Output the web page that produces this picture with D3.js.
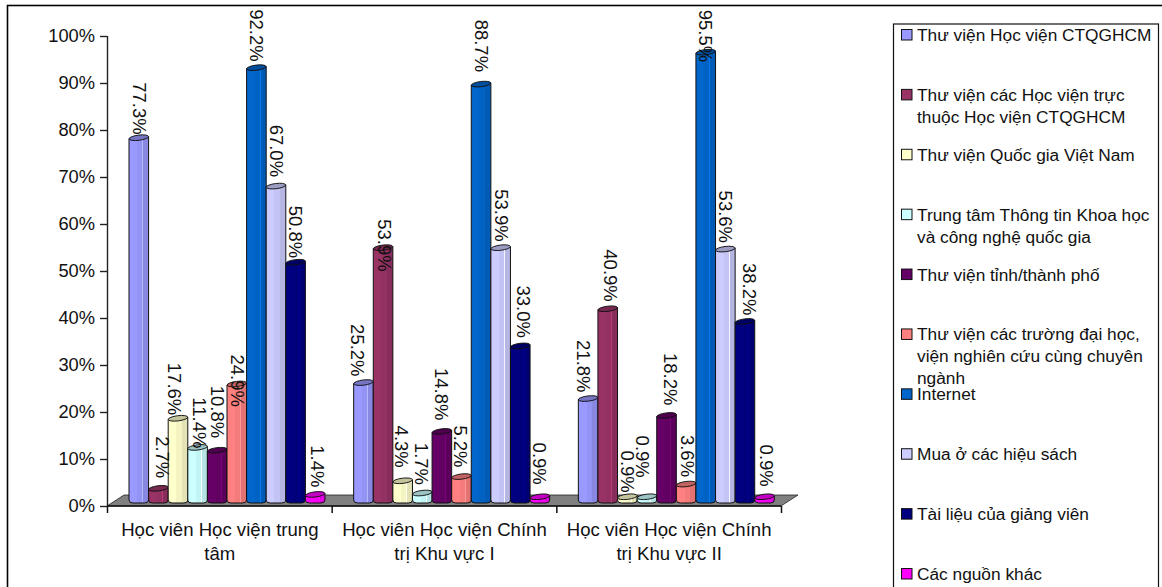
<!DOCTYPE html>
<html lang="vi">
<head>
<meta charset="utf-8">
<title>Nguồn tài liệu theo học viện</title>
<style>
  html, body { margin: 0; padding: 0; background: #fff; overflow: hidden; }
  svg { display: block; font-family: "Liberation Sans", Arial, sans-serif; fill: #111; }
</style>
<script src="https://cdnjs.cloudflare.com/ajax/libs/d3/7.8.5/d3.min.js"></script>
</head>
<body>
<svg id="chart" width="1162" height="587"></svg>
<script>
// Groups along the horizontal axis, each wrapped on two lines
const categories = ["Học viện trung tâm", "Học viện Khu vực I", "Học viện Khu vực II"];
const categoryLines = [
  ["Học viên Học viện trung", "tâm"],
  ["Học viên Học viện Chính", "trị Khu vực I"],
  ["Học viên Học viện Chính", "trị Khu vực II"]
];

// Sources, with their legend wording split into lines
const seriesLines = [
  ["Thư viện Học viện CTQGHCM"],
  ["Thư viện các Học viện trực", "thuộc Học viện CTQGHCM"],
  ["Thư viện Quốc gia Việt Nam"],
  ["Trung tâm Thông tin Khoa học", "và công nghệ quốc gia"],
  ["Thư viện tỉnh/thành phố"],
  ["Thư viện các trường đại học,", "viện nghiên cứu cùng chuyên", "ngành"],
  ["Internet"],
  ["Mua ở các hiệu sách"],
  ["Tài liệu của giảng viên"],
  ["Các nguồn khác"]
];
const seriesColors = ["#9999FF", "#993366", "#FFFFCC", "#CCFFFF", "#660066",
                      "#FF8080", "#0066CC", "#CCCCFF", "#000080", "#FF00FF"];

// Percentages per group, in the order of the sources above
const valuesCentral = [77.3, 2.7, 17.6, 11.4, 10.8, 24.9, 92.2, 67.0, 50.8, 1.4];
const valuesRegionOne = [25.2, 53.9, 4.3, 1.7, 14.8, 5.2, 88.7, 53.9, 33.0, 0.9];
const valuesRegionTwo = [21.8, 40.9, 0.9, 0.9, 18.2, 3.6, 95.5, 53.6, 38.2, 0.9];
const groupValues = [valuesCentral, valuesRegionOne, valuesRegionTwo];

const tickValues = [0, 10, 20, 30, 40, 50, 60, 70, 80, 90, 100];

// Hand placement of the rotated value labels, relative to their bars
const labelNudgeY = [
  [0, -7, 0, 4, -9, 26, -3, -6, -1, -4],
  [-3, 27, -10, -5, -8, -6, -9, -3, -5, -9],
  [-3, -4, -1, -16, -7, -4, 13, -3, -3, -7]
];
const labelNudgeX = [
  [1, 4, -4, 2, 0, 1, 0, 0, 0, 2],
  [-6, 1, -1, -1, 0, -1, 0, 1, 3, 0],
  [-5, 3, 0, -4, 4, 1, 0, 0, 5, 2]
];

const svg = d3.select("#chart");
const defs = svg.append("defs");

// Scales
const y = d3.scaleLinear().domain([0, 100]).range([506, 36]);
const xGroup = d3.scaleBand().domain(d3.range(categories.length)).range([107, 781]);
const xBar = d3.scaleBand().domain(d3.range(seriesColors.length)).range([22, 218]);
const xEdges = d3.scalePoint().domain(d3.range(categories.length + 1)).range([107, 781]);
const legendY = d3.scalePoint().domain(d3.range(seriesLines.length)).range([35, 574]);

const floorDepth = { dx: 17, dy: 11 };
const barBase = 503;
const topLift = 5;

// Outer frame and legend box run past the page edge
svg.append("rect").attr("x", 7.5).attr("y", 5.5).attr("width", 1300).attr("height", 800)
  .attr("fill", "#fff").attr("stroke", "#000").attr("stroke-width", 1.6);

// Faceted shading for the cylinders
seriesColors.forEach((c, i) => {
  const g = defs.append("linearGradient").attr("id", "bar" + i)
    .attr("x1", 0).attr("x2", 1).attr("y1", 0).attr("y2", 0);
  const mid = d3.color(c).darker(0.12).formatHex();
  const edge = d3.color(c).darker(0.32).formatHex();
  const shine = d3.color(c).brighter(0.5).formatHex();
  [[0, c], [0.42, c], [0.42, mid], [0.68, mid], [0.68, shine], [0.72, shine],
   [0.72, edge], [1, edge]].forEach(([o, col]) => {
    g.append("stop").attr("offset", o).attr("stop-color", col);
  });
});

// Floor of the plot
const x0 = xEdges(0), x1 = xEdges(categories.length), fy = y(0);
svg.append("path")
  .attr("d", d3.line()([[x0, fy], [x0 + floorDepth.dx, fy - floorDepth.dy],
                        [x1 + floorDepth.dx, fy - floorDepth.dy], [x1, fy]]) + "Z")
  .attr("fill", "#808080").attr("stroke", "#222").attr("stroke-width", 0.8);

// Vertical axis
const yAxis = svg.append("g").attr("transform", `translate(${x0},0)`)
  .call(d3.axisLeft(y).tickValues(tickValues).tickFormat(d => d + "%").tickSize(7).tickPadding(5));
yAxis.selectAll("path, line").attr("stroke", "#222").attr("stroke-width", 1.4);
yAxis.select(".domain").attr("d", `M0.5,${y(100)}V${y(0)}`);
yAxis.selectAll("text").attr("font-size", 18.3).attr("font-family", "Liberation Sans").attr("fill", "#111");

// Horizontal axis ticks
const xAxis = svg.append("g").attr("transform", `translate(0,${fy})`)
  .call(d3.axisBottom(xEdges).tickFormat("").tickSize(7));
xAxis.selectAll("path, line").attr("stroke", "#111").attr("stroke-width", 1.5);
xAxis.select(".domain").attr("d", `M${x0},0H${x1}`);

// Category names under the axis
const catLabels = svg.append("g").selectAll("text").data(categoryLines).join("text")
  .attr("text-anchor", "middle").attr("font-size", 18.6).attr("fill", "#111");
catLabels.selectAll("tspan").data((d, i) => d.map((t, j) => ({ t, j, i }))).join("tspan")
  .attr("x", d => xGroup(d.i) + xGroup.bandwidth() / 2 + 0.5)
  .attr("y", d => 536 + d.j * 23.5)
  .text(d => d.t);

// Cylinders, one group at a time
const flat = groupValues.flatMap((vals, g) => vals.map((v, s) => ({ g, s, v })));
const barW = xBar.bandwidth();
const marks = svg.append("g").selectAll("g").data(flat).join("g")
  .attr("transform", d => `translate(${xGroup(d.g) + xBar(d.s)},0)`);

marks.append("path")
  .attr("d", d => {
    const t = y(d.v) - topLift;
    return `M0,${t + 1}V${barBase - 3}Q0,${barBase} 4,${barBase}` +
           `H${barW - 4}Q${barW},${barBase} ${barW},${barBase - 3}V${t - 1}Z`;
  })
  .attr("fill", d => `url(#bar${d.s})`)
  .attr("stroke", "#111").attr("stroke-width", 1);

marks.append("ellipse")
  .attr("transform", d => `translate(${barW / 2},${y(d.v) - topLift}) rotate(-7)`)
  .attr("rx", barW / 2).attr("ry", 2.6)
  .attr("fill", d => d3.color(seriesColors[d.s]).darker(0.75).formatHex())
  .attr("stroke", "#111").attr("stroke-width", 0.9);

// Rotated value labels, drawn over every bar
svg.append("g").selectAll("text").data(flat).join("text")
  .attr("transform", d => {
    const cx = xGroup(d.g) + xBar(d.s) + barW / 2 + labelNudgeX[d.g][d.s];
    const end = y(d.v) - 8 + labelNudgeY[d.g][d.s];
    return `translate(${cx - 6.5},${end}) rotate(90)`;
  })
  .attr("text-anchor", "end")
  .attr("font-size", 18.5)
  .attr("fill", "#111")
  .text(d => d.v.toFixed(1) + "%");

// Legend
svg.append("rect").attr("x", 893.5).attr("y", 24).attr("width", 265).attr("height", 700)
  .attr("fill", "#fff").attr("stroke", "#111").attr("stroke-width", 1.2);

const items = svg.append("g").selectAll("g").data(seriesLines).join("g")
  .attr("transform", (d, i) => `translate(0,${legendY(i)})`);
items.append("rect")
  .attr("x", 901.5).attr("y", -5.5).attr("width", 10.5).attr("height", 10.5)
  .attr("fill", (d, i) => seriesColors[i]).attr("stroke", "#111").attr("stroke-width", 1);
items.selectAll("text").data(d => d).join("text")
  .attr("x", 917).attr("y", (d, j) => 6 + j * 22)
  .attr("font-size", 17.3).attr("fill", "#111")
  .text(d => d);
</script>
</body>
</html>
